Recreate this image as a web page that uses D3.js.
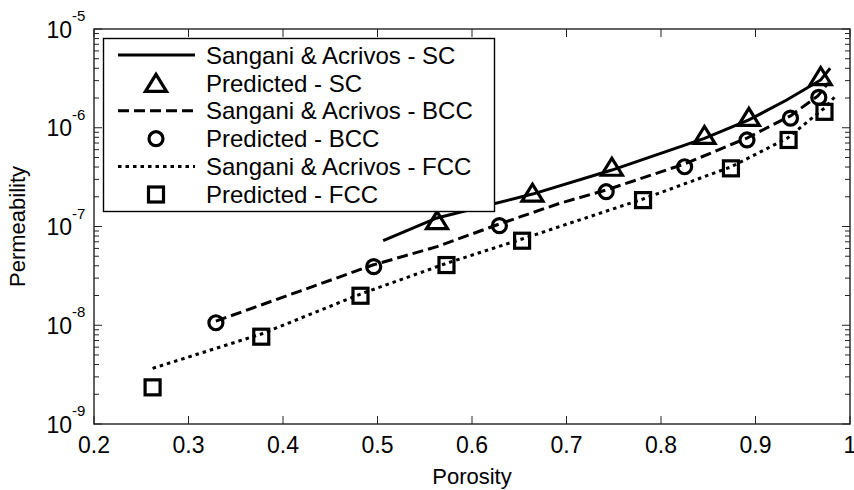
<!DOCTYPE html>
<html>
<head>
<meta charset="utf-8">
<script src="https://cdn.jsdelivr.net/npm/d3@7"></script>
<style>
  body { margin: 0; background: #fff; }
  svg { font-family: "Liberation Sans", Arial, Helvetica, sans-serif; }
</style>
</head>
<body>
<div id="chart"></div>
<script>
// Sangani & Acrivos curves (porosity, permeability)
var scLineX  = [0.506, 0.563, 0.664, 0.748, 0.846, 0.893, 0.933, 0.969, 0.979];
var scLineY  = [7.2e-8, 1.22e-7, 2.13e-7, 3.73e-7, 7.82e-7, 1.2e-6, 1.91e-6, 3.05e-6, 4.0e-6];
var bccLineX = [0.329, 0.418, 0.495, 0.563, 0.629, 0.693, 0.742, 0.825, 0.891, 0.937, 0.966, 0.977];
var bccLineY = [1.1e-8, 2.22e-8, 4.07e-8, 6.25e-8, 1.06e-7, 1.72e-7, 2.34e-7, 4.3e-7, 7.87e-7, 1.32e-6, 2.1e-6, 2.84e-6];
var fccLineX = [0.262, 0.377, 0.482, 0.574, 0.653, 0.781, 0.874, 0.934, 0.960, 0.973, 0.984];
var fccLineY = [3.66e-9, 8.15e-9, 2.07e-8, 4.27e-8, 7.47e-8, 1.9e-7, 4.01e-7, 7.87e-7, 1.26e-6, 1.58e-6, 2.06e-6];

// predicted points
var scPorosity  = [0.563, 0.664, 0.748, 0.846, 0.893, 0.969];
var scPredicted = [1.16e-7, 2.2e-7, 4.03e-7, 8.45e-7, 1.29e-6, 3.34e-6];
var bccPorosity  = [0.329, 0.496, 0.629, 0.742, 0.825, 0.891, 0.937, 0.967];
var bccPredicted = [1.06e-8, 3.92e-8, 1.02e-7, 2.25e-7, 4.03e-7, 7.52e-7, 1.25e-6, 2.03e-6];
var fccPorosity  = [0.262, 0.377, 0.482, 0.573, 0.653, 0.781, 0.874, 0.935, 0.973];
var fccPredicted = [2.35e-9, 7.66e-9, 1.99e-8, 4.07e-8, 7.18e-8, 1.85e-7, 3.88e-7, 7.52e-7, 1.45e-6];

var xTicks = [0.2, 0.3, 0.4, 0.5, 0.6, 0.7, 0.8, 0.9, 1];
var yDecades = [-9, -8, -7, -6, -5];
var legendLabels = ["Sangani & Acrivos - SC", "Predicted - SC", "Sangani & Acrivos - BCC",
                    "Predicted - BCC", "Sangani & Acrivos - FCC", "Predicted - FCC"];

var width = 854, height = 490;
var margin = {left: 94, right: 850, top: 29, bottom: 424};

var svg = d3.select("#chart").append("svg")
  .attr("width", width).attr("height", height);

var x = d3.scaleLinear().domain([0.2, 1]).range([margin.left, margin.right]);
var y = d3.scaleLog().domain([1e-9, 1e-5]).range([margin.bottom, margin.top]);

// box
svg.append("rect")
  .attr("x", margin.left).attr("y", margin.top)
  .attr("width", margin.right - margin.left).attr("height", margin.bottom - margin.top)
  .attr("fill", "none").attr("stroke", "#222").attr("stroke-width", 1.4);

// x ticks (inside, bottom and top)
var tickG = svg.append("g").attr("stroke", "#222").attr("stroke-width", 1);
xTicks.forEach(function(t) {
  tickG.append("line").attr("x1", x(t)).attr("x2", x(t)).attr("y1", margin.bottom).attr("y2", margin.bottom - 8);
  tickG.append("line").attr("x1", x(t)).attr("x2", x(t)).attr("y1", margin.top).attr("y2", margin.top + 8);
});

svg.selectAll(".xlab")
  .data(xTicks)
  .enter().append("text")
  .attr("x", function(d) { return x(d); })
  .attr("y", 452.5)
  .attr("text-anchor", "middle")
  .attr("font-size", "23px")
  .text(function(d) { return d === 1 ? "1" : d3.format(".1f")(d); });

// y ticks, major and minor
y.ticks().forEach(function(t) {
  var m = Math.round(t / Math.pow(10, Math.floor(Math.log10(t) + 1e-9)));
  var len = (m === 1) ? 8 : 5;
  tickG.append("line").attr("x1", margin.left).attr("x2", margin.left + len).attr("y1", y(t)).attr("y2", y(t));
  tickG.append("line").attr("x1", margin.right).attr("x2", margin.right - len).attr("y1", y(t)).attr("y2", y(t));
});

yDecades.forEach(function(e) {
  var yy = y(Math.pow(10, e));
  svg.append("text")
    .attr("x", 72).attr("y", yy + 8.5)
    .attr("text-anchor", "end")
    .attr("font-size", "23px")
    .text("10");
  svg.append("text")
    .attr("x", 72).attr("y", yy - 8)
    .attr("font-size", "15px")
    .text("-" + Math.abs(e));
});

// axis titles
svg.append("text")
  .attr("x", (margin.left + margin.right) / 2).attr("y", 484)
  .attr("text-anchor", "middle")
  .attr("font-size", "22px")
  .text("Porosity");

svg.append("text")
  .attr("transform", "rotate(-90)")
  .attr("x", -(margin.top + margin.bottom) / 2).attr("y", 25)
  .attr("text-anchor", "middle")
  .attr("font-size", "22px")
  .text("Permeability");

// curves
var line = d3.line()
  .x(function(d) { return x(d[0]); })
  .y(function(d) { return y(d[1]); });

function drawLine(xs, ys, dash) {
  svg.append("path")
    .datum(d3.zip(xs, ys))
    .attr("d", line)
    .attr("fill", "none")
    .attr("stroke", "#000")
    .attr("stroke-width", 3)
    .attr("stroke-dasharray", dash);
}
drawLine(scLineX, scLineY, null);
drawLine(bccLineX, bccLineY, "11,5");
drawLine(fccLineX, fccLineY, "3.5,4");

// markers
function triPath(cx, cy) {
  return "M" + (cx - 10.5) + "," + (cy + 8.5) + "L" + cx + "," + (cy - 8.5) + "L" + (cx + 10.5) + "," + (cy + 8.5) + "Z";
}
function drawMarker(cx, cy, kind) {
  var el;
  if (kind === "tri") {
    el = svg.append("path").attr("d", triPath(cx, cy));
  } else if (kind === "circle") {
    el = svg.append("circle").attr("cx", cx).attr("cy", cy).attr("r", 7);
  } else {
    el = svg.append("rect").attr("x", cx - 7.5).attr("y", cy - 7.5).attr("width", 15).attr("height", 15);
  }
  el.attr("fill", "none").attr("stroke", "#000").attr("stroke-width", 3.2);
}
function drawMarkers(xs, ys, kind) {
  d3.zip(xs, ys).forEach(function(p) {
    drawMarker(x(p[0]), y(p[1]), kind);
  });
}
drawMarkers(scPorosity, scPredicted, "tri");
drawMarkers(bccPorosity, bccPredicted, "circle");
drawMarkers(fccPorosity, fccPredicted, "square");

// legend
var lg = svg.append("g");
lg.append("rect")
  .attr("x", 103.5).attr("y", 38.5)
  .attr("width", 391).attr("height", 173)
  .attr("fill", "#fff").attr("stroke", "#000").attr("stroke-width", 1.4);

var kinds = ["solid", "tri", "dash", "circle", "dot", "square"];
legendLabels.forEach(function(label, i) {
  var cy = 55 + i * 27.9;
  var k = kinds[i];
  if (k === "solid" || k === "dash" || k === "dot") {
    lg.append("line")
      .attr("x1", 118).attr("x2", 195).attr("y1", cy).attr("y2", cy)
      .attr("stroke", "#000").attr("stroke-width", 3)
      .attr("stroke-dasharray", k === "dash" ? "11,5" : (k === "dot" ? "3.5,4" : null));
  } else {
    drawMarker(156, cy, k);
  }
  lg.append("text")
    .attr("x", 206).attr("y", cy + 8.6)
    .attr("font-size", "24px")
    .text(label);
});
</script>
</body>
</html>
